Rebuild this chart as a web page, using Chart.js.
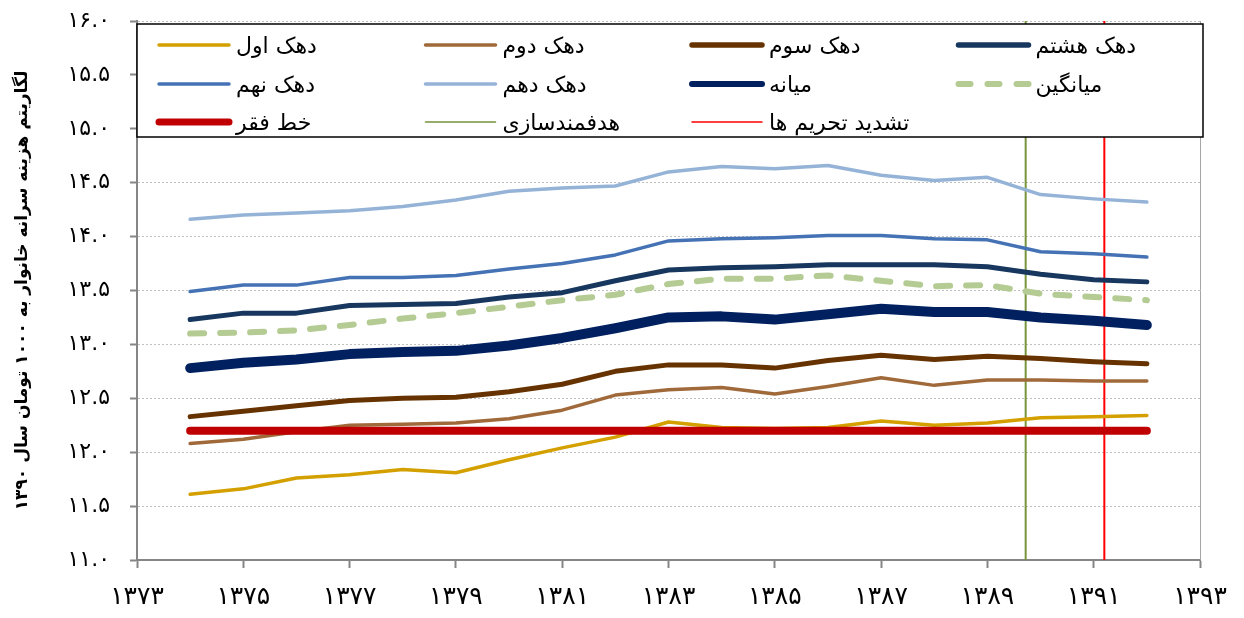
<!DOCTYPE html>
<html>
<head>
<meta charset="utf-8">
<script src="https://cdn.jsdelivr.net/npm/chart.js@4"></script>
<style>
  body { margin: 0; background: #fff; }
  .chart { width: 1244px; height: 618px; position: relative; }
</style>
</head>
<body>
<div class="chart"><canvas id="chart"></canvas></div>
<script>
const years = [1374, 1375, 1376, 1377, 1378, 1379, 1380, 1381, 1382, 1383, 1384, 1385, 1386, 1387, 1388, 1389, 1390, 1391, 1392]
const decile1 = [11.61, 11.66, 11.76, 11.79, 11.84, 11.81, 11.93, 12.04, 12.14, 12.28, 12.23, 12.22, 12.23, 12.29, 12.25, 12.27, 12.32, 12.33, 12.34]
const decile2 = [12.08, 12.12, 12.19, 12.25, 12.26, 12.27, 12.31, 12.39, 12.53, 12.58, 12.60, 12.54, 12.61, 12.69, 12.62, 12.67, 12.67, 12.66, 12.66]
const decile3 = [12.33, 12.38, 12.43, 12.48, 12.50, 12.51, 12.56, 12.63, 12.75, 12.81, 12.81, 12.78, 12.85, 12.90, 12.86, 12.89, 12.87, 12.84, 12.82]
const decile8 = [13.23, 13.29, 13.29, 13.36, 13.37, 13.38, 13.44, 13.48, 13.59, 13.69, 13.71, 13.72, 13.74, 13.74, 13.74, 13.72, 13.65, 13.60, 13.58]
const decile9 = [13.49, 13.55, 13.55, 13.62, 13.62, 13.64, 13.70, 13.75, 13.83, 13.96, 13.98, 13.99, 14.01, 14.01, 13.98, 13.97, 13.86, 13.84, 13.81]
const decile10 = [14.16, 14.20, 14.22, 14.24, 14.28, 14.34, 14.42, 14.45, 14.47, 14.60, 14.65, 14.63, 14.66, 14.57, 14.52, 14.55, 14.39, 14.35, 14.32]
const median = [12.78, 12.83, 12.86, 12.91, 12.93, 12.94, 12.99, 13.06, 13.15, 13.25, 13.26, 13.23, 13.28, 13.33, 13.30, 13.30, 13.25, 13.22, 13.18]
const mean = [13.10, 13.11, 13.13, 13.18, 13.24, 13.29, 13.35, 13.41, 13.46, 13.56, 13.61, 13.61, 13.64, 13.59, 13.54, 13.55, 13.47, 13.44, 13.41]
const poverty = [12.20, 12.20, 12.20, 12.20, 12.20, 12.20, 12.20, 12.20, 12.20, 12.20, 12.20, 12.20, 12.20, 12.20, 12.20, 12.20, 12.20, 12.20, 12.20]

// event markers: year where the vertical line stands
const subsidyYear = 1389.72
const sanctionYear = 1391.2
const yRange = [11, 16]

const FONT = "'DejaVu Sans', sans-serif"
const faDigits = '۰۱۲۳۴۵۶۷۸۹'
function fa(s) {
  return String(s).replace(/\d/g, d => faDigits[d])
}

function pts(arr) {
  return arr.map((v, i) => ({ x: years[i], y: v }))
}
function vline(x) {
  return [{ x: x, y: yRange[0] }, { x: x, y: yRange[1] }]
}

function series(label, data, color, width, order, legendWidth) {
  return {
    label: label,
    data: pts(data),
    borderColor: color,
    backgroundColor: color,
    borderWidth: width,
    legendWidth: legendWidth,
    order: order,
  }
}

const datasets = [
  series('دهک اول', decile1, '#D4A000', 3.5, 5, 3.5),
  series('دهک دوم', decile2, '#A0693A', 3.5, 5, 3.5),
  series('دهک سوم', decile3, '#663300', 5, 5, 5.5),
  series('دهک هشتم', decile8, '#17375E', 5, 5, 5.5),
  series('دهک نهم', decile9, '#4472B4', 3.5, 5, 3.5),
  series('دهک دهم', decile10, '#95B3D7', 3.5, 5, 3.5),
  series('میانه', median, '#002060', 10, 3, 6),
  Object.assign(series('میانگین', mean, '#B5CB94', 6, 4, 6), { borderDash: [14, 16] }),
  series('خط فقر', poverty, '#C00000', 8, 1, 7),
  { label: 'هدفمندسازی', data: vline(subsidyYear), borderColor: '#77933C', borderWidth: 2, legendWidth: 1.5, order: 10 },
  { label: 'تشدید تحریم ها', data: vline(sanctionYear), borderColor: '#FF0000', borderWidth: 2, legendWidth: 1.5, order: 10 },
]

// legend drawn as a white box over the top of the plot area
const boxLegend = {
  id: 'boxLegend',
  afterDraw(chart) {
    const ctx = chart.ctx
    const area = chart.chartArea
    const top = area.top + 3
    const bottom = area.top + 116
    ctx.save()
    ctx.fillStyle = '#fff'
    ctx.fillRect(area.left, top, area.right - area.left + 3, bottom - top)
    ctx.strokeStyle = '#000'
    ctx.lineWidth = 1.5
    ctx.strokeRect(area.left, top, area.right - area.left + 3, bottom - top)

    const colW = 266.5
    const rowY = [top + 21, top + 60, top + 98]
    ctx.font = '22px ' + FONT
    ctx.textBaseline = 'middle'
    ctx.textAlign = 'left'
    ctx.lineCap = 'round'
    chart.data.datasets.forEach((ds, i) => {
      const x = area.left + 22 + (i % 4) * colW
      const y = rowY[Math.floor(i / 4)]
      ctx.strokeStyle = ds.borderColor
      ctx.lineWidth = ds.legendWidth
      ctx.setLineDash(ds.borderDash ? [12, 17] : [])
      ctx.beginPath()
      ctx.moveTo(x, y)
      ctx.lineTo(x + 70, y)
      ctx.stroke()
      ctx.setLineDash([])
      ctx.fillStyle = '#000'
      ctx.fillText(ds.label, x + 77, y + 2)
    })
    ctx.restore()
  },
}

// thin plot-area border on the right
const rightBorder = {
  id: 'rightBorder',
  beforeDatasetsDraw(chart) {
    const ctx = chart.ctx
    const a = chart.chartArea
    ctx.save()
    ctx.strokeStyle = '#A6A6A6'
    ctx.lineWidth = 1
    ctx.beginPath()
    ctx.moveTo(a.right + 0.5, a.top)
    ctx.lineTo(a.right + 0.5, a.bottom)
    ctx.stroke()
    ctx.restore()
  },
}

const ctx = document.getElementById('chart').getContext('2d')
new Chart(ctx, {
  type: 'line',
  data: { datasets: datasets },
  options: {
    responsive: true,
    maintainAspectRatio: false,
    animation: false,
    events: [],
    elements: {
      point: { radius: 0 },
      line: { tension: 0, borderCapStyle: 'round', borderJoinStyle: 'round', fill: false },
    },
    layout: { padding: { top: 21, right: 44, left: 0, bottom: 0 } },
    plugins: {
      legend: { display: false },
      tooltip: { enabled: false },
    },
    scales: {
      x: {
        type: 'linear',
        min: 1373,
        max: 1393,
        afterFit: s => { s.height = 58 },
        ticks: {
          stepSize: 2,
          padding: 14,
          color: '#000',
          font: { family: FONT, size: 25 },
          callback: v => fa(v),
        },
        grid: { drawOnChartArea: false, tickLength: 8, tickColor: '#868686', tickWidth: 2 },
        border: { color: '#868686', width: 2 },
      },
      y: {
        min: yRange[0],
        max: yRange[1],
        afterFit: s => {
          s.width = 137
          s.paddingTop = 14
          s.paddingBottom = 14
        },
        ticks: {
          stepSize: 0.5,
          padding: 20,
          color: '#000',
          font: { family: FONT, size: 22 },
          callback: v => fa(v.toFixed(1)),
        },
        grid: { color: '#BFBFBF', lineWidth: 1, tickLength: 7, tickColor: '#868686', tickWidth: 2 },
        border: { color: '#868686', width: 2, dash: [2, 2] },
        title: {
          display: true,
          text: 'لگاریتم هزینه سرانه خانوار به ۱۰۰۰ تومان سال ۱۳۹۰',
          color: '#000',
          font: { family: FONT, size: 17, weight: 'bold' },
          padding: { top: 12, bottom: 0 },
        },
      },
    },
  },
  plugins: [rightBorder, boxLegend],
})
</script>
</body>
</html>
